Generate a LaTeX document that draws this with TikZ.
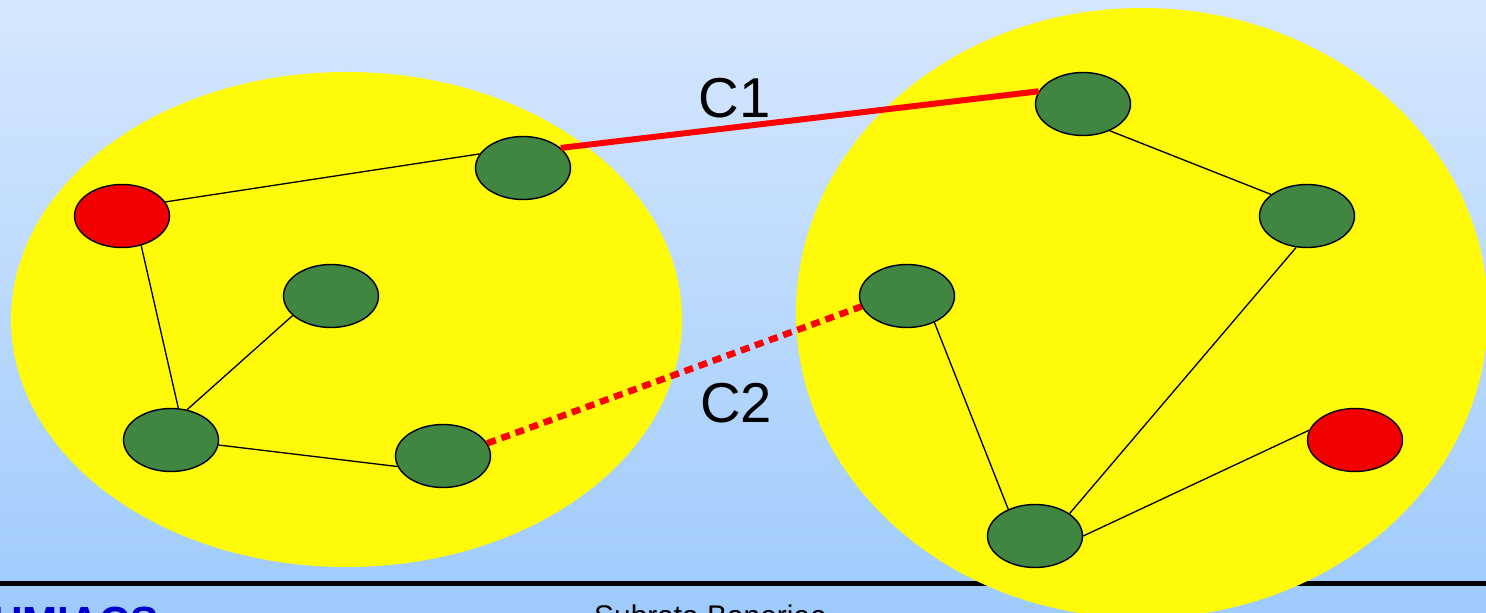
\documentclass[tikz,border=0pt]{standalone}
\usepackage{fontspec}
\setmainfont{Liberation Sans}
\usetikzlibrary{shapes.geometric}
\definecolor{SlideTop}{HTML}{D6E7FD}
\definecolor{SlideBottom}{HTML}{9ECBFC}
\definecolor{ClusterYellow}{HTML}{FFFA0A}
\definecolor{MemberGreen}{HTML}{408640}
\definecolor{HeadRed}{HTML}{F20000}
\definecolor{LinkRed}{HTML}{FF0000}
\definecolor{FooterBlue}{HTML}{0000CC}

\begin{document}
\begin{tikzpicture}[x=0.2mm,y=-0.2mm,line join=round,
  member/.style={ellipse,draw,line width=0.8pt,fill=MemberGreen,
    minimum width=19mm,minimum height=12.6mm,inner sep=0pt},
  head/.style={member,fill=HeadRed},
  link/.style={line width=0.75pt},
  bridge/.style={LinkRed,line width=3.4pt},
  weakbridge/.style={LinkRed,line width=3.7pt,dash pattern=on 1.8mm off 1.2mm},
  tag/.style={font=\fontsize{32}{36}\selectfont}]
  \useasboundingbox (0,0) rectangle (1486,613);
  \clip (0,0) rectangle (1486,613);

  % slide background and footer
  \shade[top color=SlideTop,bottom color=SlideBottom] (0,0) rectangle (1486,613);
  \draw[line width=1mm] (0,583.5) -- (1486,583.5);
  \node[anchor=base west,FooterBlue,font=\fontsize{24}{28}\selectfont\bfseries] (site) at (-14,636) {UMIACS};
  \node[anchor=base west,font=\fontsize{17}{20}\selectfont] (author) at (588,626.5) {Subrata Banerjee};

  % the two clusters
  \fill[ClusterYellow] (346.5,319.5) ellipse (335.5 and 247.5);
  \fill[ClusterYellow] (1142,313) ellipse (346 and 305);

  \node[head]   (lhead) at (122,216) {};
  \node[member] (ltop)  at (523,168) {};
  \node[member] (lmid)  at (331,296) {};
  \node[member] (lbot)  at (171,440) {};
  \node[member] (lgate) at (443,456) {};

  \node[member] (rtop)   at (1083,104) {};
  \node[member] (rright) at (1307,216) {};
  \node[member] (rgate)  at (907,296) {};
  \node[member] (rbot)   at (1035,536) {};
  \node[head]   (rhead)  at (1355,440) {};

  \draw[link] (lhead.18) -- (ltop.162);
  \draw[link] (lhead.-57) -- (lbot.77);
  \draw[link] (lbot.62) -- (lmid.207);
  \draw[link] (lbot.-6) -- (lgate.193);

  \draw[link] (rtop.-45) -- (rright.149);
  \draw[link] (rright.-109) -- (rbot.33);
  \draw[link] (rgate.-44) -- (rbot.135);
  \draw[link] (rbot.0) -- (rhead.168);

  % links between clusters
  \draw[bridge] (ltop.28) -- (rtop.164);
  \draw[weakbridge] (lgate.16) -- (rgate.193);
  \node[tag] (c1) at (734.5,98.5) {C1};
  \node[tag] (c2) at (736,403) {C2};
\end{tikzpicture}
\end{document}
